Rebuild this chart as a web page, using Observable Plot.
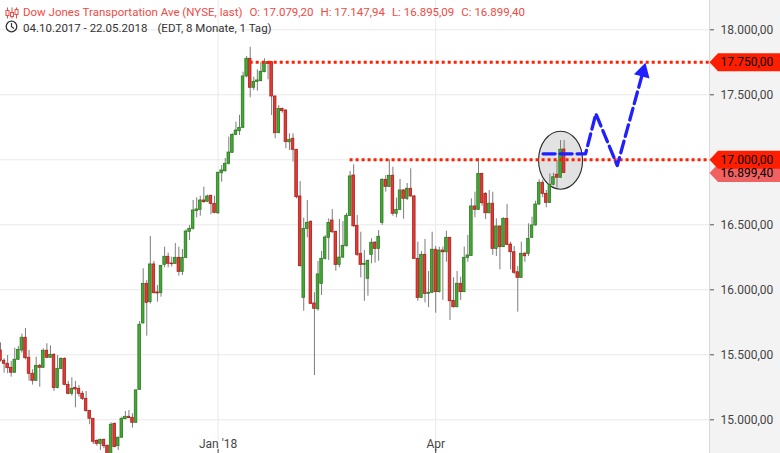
<!DOCTYPE html>
<html>
<head>
<meta charset="utf-8">
<script src="https://cdn.jsdelivr.net/npm/d3@7"></script>
<script src="https://cdn.jsdelivr.net/npm/@observablehq/plot@0.6"></script>
<style>
  html, body { margin: 0; padding: 0; background: #fff; }
  #wrap {
    position: relative; width: 780px; height: 453px; overflow: hidden;
    background: linear-gradient(to right, #fff 0 709px, #d8d8d8 709px 710px, #f3f3f3 710px);
    font-family: Roboto, "Noto Sans", sans-serif;
  }
  #chart svg { display: block; }
  .hdr { position: absolute; left: 23px; font-size: 11.5px; line-height: 13px; white-space: nowrap; }
  #h1 { top: 6px; color: #ee4b45; }
  #h2 { top: 22px; color: #333; }
  .hdr span.gap { display: inline-block; width: 7px; }
  .icon { position: absolute; left: 5px; }
</style>
</head>
<body>
<div id="wrap">
  <div id="chart"></div>
  <svg class="icon" style="top:7px" width="14" height="12" viewBox="0 0 14 12">
    <g stroke="#ee4b45" stroke-width="1" fill="#fff">
      <line x1="2.5" y1="0.5" x2="2.5" y2="11.5"/><rect x="1" y="3.5" width="3" height="5"/>
      <line x1="7" y1="0.5" x2="7" y2="11.5"/><rect x="5.5" y="5.5" width="3" height="4"/>
      <line x1="11.5" y1="0.5" x2="11.5" y2="11.5"/><rect x="10" y="2.5" width="3" height="5"/>
    </g>
  </svg>
  <svg class="icon" style="top:20px" width="14" height="13" viewBox="0 0 14 13">
    <circle cx="6.5" cy="6.5" r="5.3" fill="none" stroke="#333" stroke-width="1.3"/>
    <polyline points="6.5,3 6.5,6.8 9,8.5" fill="none" stroke="#333" stroke-width="1.2"/>
  </svg>
  <div class="hdr" id="h1">Dow Jones Transportation Ave (NYSE, last)<span class="gap"></span>O: 17.079,20<span class="gap"></span>H: 17.147,94<span class="gap"></span>L: 16.895,09<span class="gap"></span>C: 16.899,40</div>
  <div class="hdr" id="h2">04.10.2017 - 22.05.2018<span class="gap"></span><span style="display:inline-block;width:3px"></span>(EDT, 8 Monate, 1 Tag)</div>
</div>
<script>
// ---- data (daily candles, trading-day index 0 = 04.10.2017 ... 158 = 22.05.2018) ----
const openV = [15533,15454,15431,15400,15362,15462,15533,15631,15477,15354,15300,15415,15400,15531,15477,15500,15244,15392,15469,15269,
15200,15246,15238,15200,15161,15069,15008,14838,14815,14846,14800,14738,14969,14797,14862,15005,15023,15015,14977,15231,
15741,16046,15905,16195,15980,15974,16192,16254,16202,16200,16246,16138,16246,16446,16469,16605,16615,16687,16677,16723,
16661,16589,16897,16912,16969,17054,17192,17220,17246,17641,17777,17554,17600,17605,17674,17751,17751,17487,17205,17392,
17379,17135,17162,17077,16718,15938,16469,16523,15895,15851,16046,16238,16400,16533,16446,16192,16248,16335,16569,16879,
16492,16277,16192,16085,16269,16362,16315,16515,16846,16792,16877,16585,16615,16764,16700,16777,16718,16238,15938,16269,
15969,15977,16308,15982,16302,16289,16400,15915,15866,16046,15982,16246,16261,16641,16615,16892,16738,16589,16662,16315,
16487,16328,16546,16348,16289,16135,16092,16277,16275,16400,16495,16656,16823,16738,16669,16808,16885,16862,17079.2];
const highV = [15592,15469,15495,15449,15551,15564,15659,15703,15533,15385,15482,15426,15546,15585,15569,15508,15495,15477,15477,15295,
15323,15295,15264,15218,15218,15072,15010,14846,14851,14851,14805,14977,14975,14867,15021,15064,15072,15046,15231,15756,
16162,16072,16410,16218,16033,16187,16328,16282,16251,16356,16328,16310,16461,16495,16687,16708,16720,16790,16728,16728,
16720,16905,16956,17010,17174,17200,17290,17343,17674,17795,17866,17635,17692,17748,17777,17755,17755,17490,17418,17397,
17385,17200,17200,17080,16833,16551,16687,16530,15977,16218,16295,16418,16546,16618,16450,16541,16525,16587,16912,16962,
16572,16443,16302,16228,16392,16372,16456,16854,16879,17000,16943,16705,16849,16772,16818,16931,16725,16366,16295,16387,
16141,16443,16333,16328,16328,16451,16402,16092,16141,16097,16328,16418,16700,16751,17008,16895,16748,16764,16751,16546,
16490,16554,16656,16366,16333,16179,16366,16289,16508,16559,16682,16846,16846,16764,16892,16897,16995,17148,17147.94];
const lowV = [15444,15359,15354,15328,15359,15456,15513,15462,15297,15267,15295,15251,15397,15469,15472,15218,15238,15385,15262,15192,
15182,15092,15174,15149,15059,14962,14810,14797,14764,14777,14730,14735,14785,14764,14858,15000,15008,14936,14974,15226,
15738,15643,15890,15969,15905,15943,16169,16169,16175,16195,16105,16110,16240,16379,16460,16554,16566,16666,16672,16577,
16584,16580,16828,16905,16960,17050,17185,17187,17240,17630,17477,17533,17528,17600,17670,17615,17341,17162,17200,17358,
17085,17072,16982,16700,16175,15835,16400,15887,15340,15835,15956,16230,16225,16433,16143,16169,16240,16330,16565,16479,
16256,16092,15912,15951,16200,16205,16220,16495,16751,16787,16566,16554,16610,16543,16687,16710,16233,15912,15935,15900,
15862,15970,15820,15975,15918,16212,15764,15860,15862,15918,15978,16212,16258,16554,16610,16643,16541,16585,16264,16256,
16154,16325,16340,16154,16118,15828,16087,16212,16256,16395,16490,16650,16708,16631,16665,16800,16782,16858,16895.09];
const closeV = [15456,15431,15397,15362,15462,15538,15631,15474,15354,15300,15415,15400,15531,15477,15500,15244,15392,15469,15269,15200,
15238,15233,15200,15161,15067,15008,14831,14815,14846,14797,14738,14962,14790,14862,15008,15023,15013,14977,15226,15731,
16046,15900,16195,15974,15972,16184,16254,16200,16197,16246,16138,16246,16448,16469,16610,16618,16687,16674,16718,16661,
16592,16900,16918,16969,17056,17192,17225,17246,17641,17777,17554,17600,17610,17677,17751,17738,17487,17205,17392,17374,
17137,17154,17077,16712,16182,16469,16515,15892,15854,16118,16238,16402,16515,16443,16192,16248,16338,16569,16872,16489,
16269,16192,16200,16223,16362,16315,16408,16846,16792,16877,16585,16615,16764,16700,16777,16718,16238,15937,16269,15969,
15977,16308,15982,16302,16289,16400,15912,15866,16046,15982,16246,16264,16641,16615,16892,16666,16589,16662,16315,16487,
16328,16546,16346,16289,16131,16092,16277,16258,16392,16495,16656,16823,16738,16669,16808,16866,16862,17077,16899.4];

const xTickIdx = [61, 122];            // first trading days of Jan 2018 and Apr 2018
const xTickLabels = ["Jan '18", "Apr"];
const yTicks = [15000, 15500, 16000, 16500, 17000, 17500, 18000];
const levelValues = [17750, 17000];     // red dotted resistance lines
const levelStart = [70, 98];            // candle index where each line starts
const tagValues = [16899.40, 17000, 17750];
const tagColors = ["#f06262", "#ff1f00", "#ff1f00"];
const pathIdx = [152.1, 164.0, 166.9, 172.9, 180.1];  // blue projected path
const pathVal = [17046, 17046, 17354, 16956, 17677];
const circleIdx = [157];
const circleVal = [16997];

// ---- build tables ----
const candles = openV.map((o, i) => ({i, o, h: highV[i], l: lowV[i], c: closeV[i], up: closeV[i] >= o}));
const levels = levelValues.map((v, k) => ({v, start: levelStart[k]}));
const tags = tagValues.map((v, k) => ({v, color: tagColors[k]}));
const path = pathIdx.map((x, k) => ({x, y: pathVal[k]}));
const head = [path[path.length - 1]];
const circle = circleIdx.map((x, k) => ({x, y: circleVal[k]}));
const xTicks = xTickIdx.map((x, k) => ({x, label: xTickLabels[k]}));

const de = d3.formatLocale({decimal: ",", thousands: ".", grouping: [3], currency: ["", ""]});
const fmt = de.format(",.2f");

const xMax = 198.75;
const tagSymbol = {draw(ctx) { ctx.moveTo(0, 0); ctx.lineTo(8.5, -9); ctx.lineTo(72, -9); ctx.lineTo(72, 9); ctx.lineTo(8.5, 9); ctx.closePath(); }};
const ellipseSymbol = {draw(ctx) {
  const rx = 22, ry = 29, k = 0.5523;
  ctx.moveTo(rx, 0);
  ctx.bezierCurveTo(rx, ry * k, rx * k, ry, 0, ry);
  ctx.bezierCurveTo(-rx * k, ry, -rx, ry * k, -rx, 0);
  ctx.bezierCurveTo(-rx, -ry * k, -rx * k, -ry, 0, -ry);
  ctx.bezierCurveTo(rx * k, -ry, rx, -ry * k, rx, 0);
  ctx.closePath();
}};
const headAngle = 15.4;

const chart = Plot.plot({
  width: 780, height: 453,
  marginLeft: 0, marginRight: 71, marginTop: 0, marginBottom: 0,
  x: {domain: [0, xMax], axis: null},
  y: {domain: [14740.8, 18225.4], axis: null},
  style: {background: "none", fontFamily: "Roboto, 'Noto Sans', sans-serif", fontSize: "12px", color: "#444", overflow: "hidden"},
  marks: [
    Plot.ruleY(yTicks, {stroke: "#e9e9e9", strokeWidth: 1}),
    Plot.ruleX(xTicks, {x: "x", stroke: "#e9e9e9", strokeWidth: 1}),
    Plot.dot(circle, {x: "x", y: "y", symbol: ellipseSymbol, fill: "#e2e2e2", stroke: "#2a2a2a", strokeWidth: 1.1}),
    Plot.ruleX(candles, {x: "i", y1: "l", y2: "h", stroke: "#7c7c7c", strokeWidth: 1}),
    Plot.rect(candles, {
      x1: d => d.i - 0.36, x2: d => d.i + 0.36, y1: "o", y2: "c",
      fill: d => d.up ? "#45a836" : "#e33a35",
      stroke: d => d.up ? "#2b7a1f" : "#a8201c", strokeWidth: 0.8
    }),
    Plot.ruleY(levels, {y: "v", x1: "start", x2: xMax, stroke: "#ff1f00", strokeWidth: 3, strokeDasharray: "3,3"}),
    Plot.line(path, {x: "x", y: "y", stroke: "#1f1fff", strokeWidth: 3.3, strokeDasharray: "12,5"}),
    Plot.dot(head, {x: "x", y: "y", symbol: "triangle", r: 6, fill: "#1f1fff", stroke: "none", rotate: headAngle}),
    Plot.axisY(yTicks, {anchor: "right", tickSize: 4, tickPadding: 7, tickFormat: fmt, fontSize: 12, fill: "#444", stroke: "#555"}),
    Plot.axisX(xTicks.map(d => d.x), {anchor: "bottom", tickSize: 4, dy: -4, tickFormat: () => "", stroke: "#444"}),
    Plot.text(xTicks, {x: "x", text: "label", frameAnchor: "bottom", lineAnchor: "bottom", dy: -6, fill: "#444", fontSize: 12}),
    Plot.dot(tags, {y: "v", frameAnchor: "right", symbol: tagSymbol, fill: d => d.color, stroke: "none"}),
    Plot.text(tags, {y: "v", text: d => fmt(d.v), frameAnchor: "right", dx: 11, textAnchor: "start", fill: "#000", fontSize: 12})
  ]
});
document.getElementById("chart").appendChild(chart);
</script>
</body>
</html>
